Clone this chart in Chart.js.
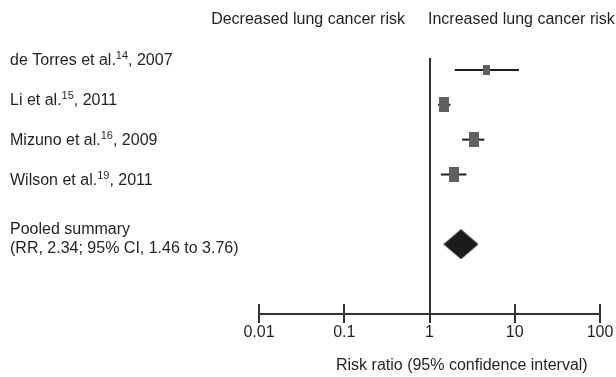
<!DOCTYPE html>
<html>
<head>
<meta charset="utf-8">
<script src="https://cdn.jsdelivr.net/npm/chart.js@4.4.1/dist/chart.umd.min.js"></script>
<style>
  html, body { margin: 0; padding: 0; background: #fff; }
  #wrap { width: 616px; height: 377px; }
</style>
</head>
<body>
<div id="wrap"><canvas id="forest"></canvas></div>
<script>
// study data
var studies = ["de Torres et al.", "Li et al.", "Mizuno et al.", "Wilson et al."];
var refs = ["14", "15", "16", "19"];
var years = ["2007", "2011", "2009", "2011"];
var rr = [4.72, 1.47, 3.30, 1.92];
var ciLow = [1.98, 1.26, 2.41, 1.36];
var ciHigh = [11.2, 1.76, 4.40, 2.71];
var rows = [1, 2, 3, 4];

var pooledRR = 2.34;
var pooledLow = 1.46;
var pooledHigh = 3.76;
var pooledRow = 6;
var pooledText = ["Pooled summary", "(RR, 2.34; 95% CI, 1.46 to 3.76)"];

var tickVals = [0.01, 0.1, 1, 10, 100];
var tickLabels = ["0.01", "0.1", "1", "10", "100"];

var FONT = "'Liberation Sans', Arial, sans-serif";
var INK = "#231f20";

// box sizes (study weight) - styling only
var boxSizes = [[7, 10], [10, 15], [10, 15], [10, 15]];

function boxImg(w, h) {
  var c = document.createElement("canvas");
  c.width = w; c.height = h;
  var g = c.getContext("2d");
  g.fillStyle = "#606060";
  g.fillRect(0, 0, w, h);
  return c;
}

function diamondImg(w, h) {
  var c = document.createElement("canvas");
  c.width = w; c.height = h;
  var g = c.getContext("2d");
  g.fillStyle = "#1c1a1b";
  g.beginPath();
  g.moveTo(0, h / 2);
  g.lineTo(w / 2, 0);
  g.lineTo(w, h / 2);
  g.lineTo(w / 2, h);
  g.closePath();
  g.fill();
  return c;
}

var datasets = [];

// boxes on top
datasets.push({
  type: "scatter",
  data: rr.map(function(v, i) { return { x: v, y: rows[i] }; }),
  pointStyle: boxSizes.map(function(s) { return boxImg(s[0], s[1]); }),
  pointRadius: 6
});

// pooled diamond (~35px wide, matches CI span on the log axis)
datasets.push({
  type: "scatter",
  data: [{ x: pooledRR, y: pooledRow }],
  pointStyle: diamondImg(35, 30),
  pointRadius: 15
});

// confidence interval whiskers
for (var i = 0; i < studies.length; i++) {
  datasets.push({
    type: "line",
    data: [{ x: ciLow[i], y: rows[i] }, { x: ciHigh[i], y: rows[i] }],
    borderColor: "#1e1e1e",
    borderWidth: 2,
    pointRadius: 0,
    fill: false
  });
}

var decorations = {
  id: "decorations",
  beforeDatasetsDraw: function(chart) {
    var ctx = chart.ctx;
    var xs = chart.scales.x, ys = chart.scales.y;
    var bottom = Math.round(chart.chartArea.bottom);
    ctx.save();
    ctx.strokeStyle = "#333";
    ctx.lineWidth = 2;
    // no-effect line at RR = 1
    var x1 = Math.round(xs.getPixelForValue(1));
    ctx.beginPath();
    ctx.moveTo(x1, ys.getPixelForValue(0.66));
    ctx.lineTo(x1, bottom);
    ctx.stroke();
    // axis line + crossing ticks
    ctx.beginPath();
    ctx.moveTo(xs.getPixelForValue(0.01), bottom);
    ctx.lineTo(xs.getPixelForValue(100), bottom);
    ctx.stroke();
    tickVals.forEach(function(v) {
      var px = Math.round(xs.getPixelForValue(v));
      ctx.beginPath();
      ctx.moveTo(px, bottom - 10);
      ctx.lineTo(px, bottom + 9);
      ctx.stroke();
    });
    ctx.restore();
  },
  afterDraw: function(chart) {
    var ctx = chart.ctx;
    var xs = chart.scales.x, ys = chart.scales.y;
    var bottom = chart.chartArea.bottom;
    ctx.save();
    ctx.fillStyle = INK;
    ctx.textBaseline = "middle";
    ctx.font = "16px " + FONT;

    // headers
    ctx.textAlign = "right";
    ctx.fillText("Decreased lung cancer risk", 405, 20);
    ctx.textAlign = "left";
    ctx.fillText("Increased lung cancer risk", 428, 20);

    // tick labels
    ctx.textAlign = "center";
    tickVals.forEach(function(v, k) {
      ctx.fillText(tickLabels[k], xs.getPixelForValue(v), bottom + 19);
    });

    // study labels with superscript reference numbers
    // (the text column is spaced a bit wider than the marker rows)
    ctx.textAlign = "left";
    for (var i = 0; i < studies.length; i++) {
      var y = 61 + 40 * i;
      var x = 10;
      ctx.font = "16px " + FONT;
      ctx.fillText(studies[i], x, y);
      x += ctx.measureText(studies[i]).width;
      ctx.font = "11px " + FONT;
      ctx.fillText(refs[i], x, y - 5);
      x += ctx.measureText(refs[i]).width;
      ctx.font = "16px " + FONT;
      ctx.fillText(", " + years[i], x, y);
    }

    // pooled summary
    var py = ys.getPixelForValue(pooledRow);
    ctx.fillText(pooledText[0], 10, py - 15);
    ctx.fillText(pooledText[1], 10, py + 4);

    // axis title
    ctx.fillText("Risk ratio (95% confidence interval)", 336, 366);
    ctx.restore();
  }
};

new Chart(document.getElementById("forest"), {
  type: "scatter",
  data: { datasets: datasets },
  options: {
    responsive: true,
    maintainAspectRatio: false,
    animation: false,
    events: [],
    layout: { padding: { left: 259, right: 15, top: 35, bottom: 63 } },
    plugins: { legend: { display: false }, tooltip: { enabled: false } },
    scales: {
      x: {
        type: "logarithmic",
        min: 0.01,
        max: 100,
        grid: { display: false, drawTicks: false },
        border: { display: false },
        ticks: { display: false }
      },
      y: {
        type: "linear",
        min: 0,
        max: 8,
        reverse: true,
        display: false
      }
    }
  },
  plugins: [decorations]
});
</script>
</body>
</html>
